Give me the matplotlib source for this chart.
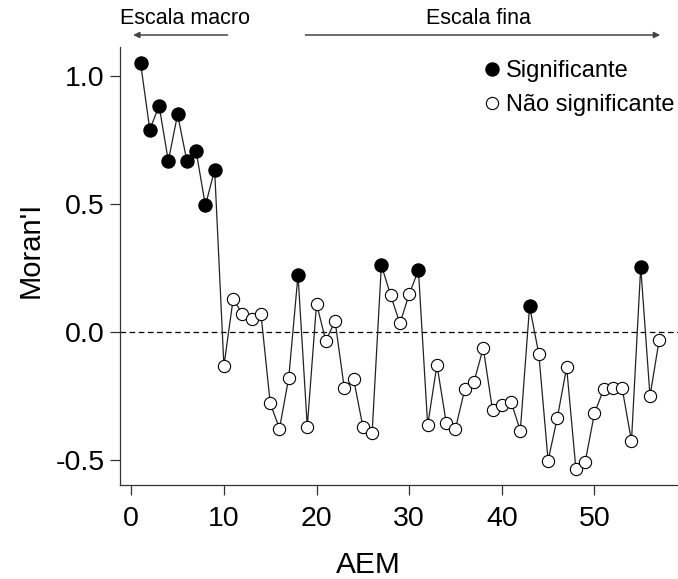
import matplotlib
matplotlib.use("Agg")
import matplotlib.pyplot as plt
import matplotlib.transforms as mtransforms
from matplotlib.lines import Line2D

plt.rcParams['font.family'] = ['Liberation Sans', 'DejaVu Sans']

# ---- data ----
aem = list(range(1, 58))
moran = [1.050, 0.789, 0.883, 0.667, 0.849, 0.667, 0.705, 0.493, 0.632,
         -0.134, 0.128, 0.069, 0.049, 0.069, -0.280, -0.379, -0.180, 0.221,
         -0.371, 0.109, -0.036, 0.041, -0.222, -0.185, -0.371, -0.396, 0.260,
         0.142, 0.032, 0.146, 0.240, -0.366, -0.130, -0.356, -0.379, -0.226,
         -0.196, -0.064, -0.307, -0.285, -0.274, -0.387, 0.099, -0.088, -0.504,
         -0.336, -0.140, -0.536, -0.510, -0.320, -0.225, -0.222, -0.222, -0.428,
         0.253, -0.252, -0.031]
significant = [1, 2, 3, 4, 5, 6, 7, 8, 9, 18, 27, 31, 43, 55]
xticks = [0, 10, 20, 30, 40, 50]
yticks = [-0.5, 0.0, 0.5, 1.0]
ytick_labels = ["-0.5", "0.0", "0.5", "1.0"]
legend_labels = ["Significante", "Não significante"]
scale_labels = ["Escala macro", "Escala fina"]
macro_arrow = (10.4, 0.2)   # from, to (AEM units)
fine_arrow = (18.8, 57.1)

# ---- figure ----
W, H = 678, 579
fig = plt.figure(figsize=(W / 100, H / 100), dpi=100)
ax = fig.add_axes([119.8 / W, (H - 485) / H, 560.2 / W, 438.3 / H])

sig_x = [a for a in aem if a in significant]
sig_y = [m for a, m in zip(aem, moran) if a in significant]
ns_x = [a for a in aem if a not in significant]
ns_y = [m for a, m in zip(aem, moran) if a not in significant]

ax.axhline(0, color='black', lw=0.9, dashes=(4.5, 2.8), zorder=1)
ax.plot(aem, moran, color='#222222', lw=0.9, zorder=2)
ax.plot(ns_x, ns_y, 'o', ms=8.8, mfc='white', mec='black', mew=0.8, zorder=3)
ax.plot(sig_x, sig_y, 'o', ms=9.4, mfc='black', mec='black', zorder=4)

pad = 0.04 * (aem[-1] - aem[0])
ax.set_xlim(aem[0] - pad, aem[-1] + pad)
ymin, ymax = min(moran), max(moran)
ypad = 0.04 * (ymax - ymin)
ax.set_ylim(ymin - ypad, ymax + ypad)

ax.set_xticks(xticks)
ax.set_yticks(yticks)
ax.set_yticklabels(ytick_labels)
ax.tick_params(axis='both', direction='out', length=7, width=0.9,
               labelsize=20.5, colors='#333333', labelcolor='black')
ax.tick_params(axis='x', pad=8)
ax.tick_params(axis='y', pad=4)
for s in ['top', 'right']:
    ax.spines[s].set_visible(False)
for s in ['left', 'bottom']:
    ax.spines[s].set_linewidth(0.9)
    ax.spines[s].set_color('#333333')

ax.set_xlabel('AEM', fontsize=21.5, va='center')
ax.xaxis.set_label_coords(0.443, -0.1825)
ax.set_ylabel("Moran'I", fontsize=21, va='center')
ax.yaxis.set_label_coords(-0.160, 0.536)

# legend
handles = [Line2D([], [], marker='o', ls='', ms=9.4, mfc='black', mec='black'),
           Line2D([], [], marker='o', ls='', ms=8.8, mfc='white', mec='black', mew=0.8)]
ax.legend(handles, legend_labels, loc='upper left', frameon=False,
          fontsize=17, handletextpad=0.1, labelspacing=0.5,
          borderaxespad=0, borderpad=0, handlelength=1.0,
          bbox_to_anchor=(480 / W, (H - 60) / H), bbox_transform=fig.transFigure)

# scale annotations
ytxt = 1 - 19 / H
yarr = 1 - 35 / H
trans = mtransforms.blended_transform_factory(ax.transData, fig.transFigure)
for (x0, x1) in (macro_arrow, fine_arrow):
    ax.annotate('', xy=(x1, yarr), xytext=(x0, yarr),
                xycoords=trans, textcoords=trans, annotation_clip=False,
                arrowprops=dict(arrowstyle='-|>', color='#444444', lw=1.1,
                                mutation_scale=9, shrinkA=0, shrinkB=0))
fig.text(185 / W, ytxt, scale_labels[0], ha='center', va='center', fontsize=15.5)
fig.text(478 / W, ytxt, scale_labels[1], ha='center', va='center', fontsize=15.5)

fig.savefig('out.png', dpi=100)
